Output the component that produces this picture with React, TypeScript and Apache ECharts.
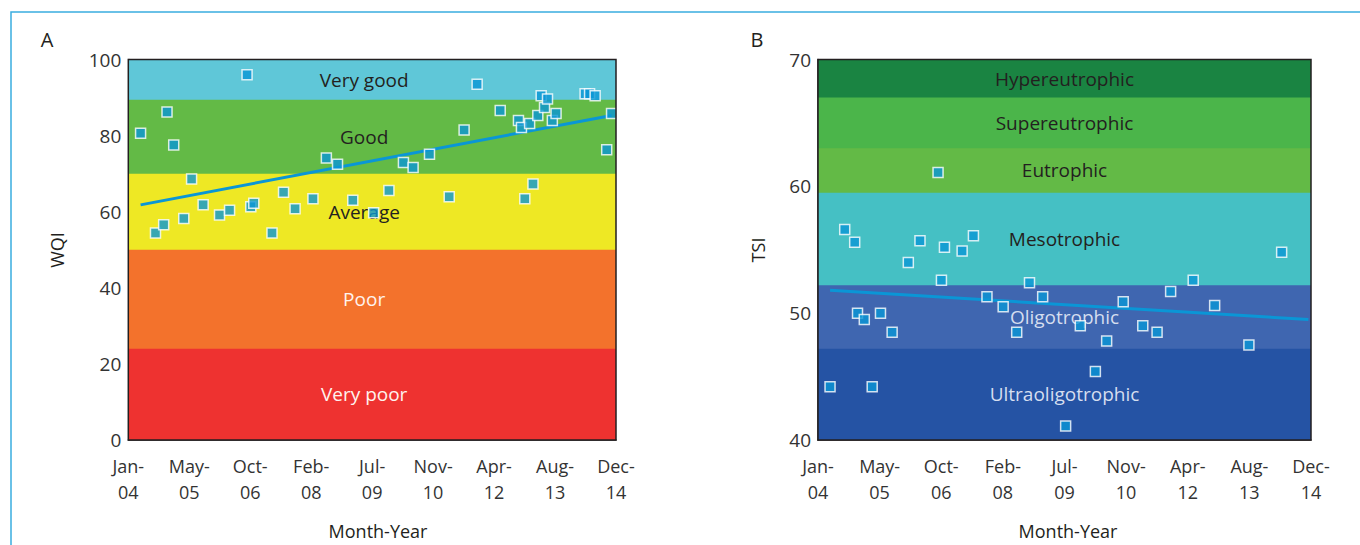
import React, { useEffect, useRef } from "react";
import * as echarts from "echarts";

// x values are months since Jan-2004
const tickLabels = ["Jan-\n04", "May-\n05", "Oct-\n06", "Feb-\n08", "Jul-\n09", "Nov-\n10", "Apr-\n12", "Aug-\n13", "Dec-\n14"];
const monthSpan = 131;

const wqiMonths = [3.3, 7.3, 9.5, 10.4, 12.2, 14.9, 17.0, 20.1, 24.5, 27.2, 31.9, 32.9, 33.7, 38.6, 41.7, 44.8, 49.6, 53.2, 56.2, 60.3, 65.9, 70.0, 73.9, 76.5, 80.9, 86.2, 90.2, 93.7, 99.9, 104.8, 105.6, 106.5, 107.8, 108.7, 110.0, 110.9, 111.8, 112.6, 113.9, 114.9, 122.7, 123.9, 125.4, 128.5, 129.8];
const wqiValues = [80.6, 54.4, 56.6, 86.2, 77.5, 58.2, 68.6, 61.8, 59.1, 60.4, 96.0, 61.3, 62.2, 54.4, 65.1, 60.8, 63.4, 74.1, 72.5, 63.0, 59.7, 65.6, 72.9, 71.6, 75.1, 63.9, 81.5, 93.5, 86.6, 84.0, 82.1, 63.4, 83.2, 67.3, 85.3, 90.5, 87.4, 89.6, 84.0, 85.8, 91.0, 91.0, 90.5, 76.3, 85.8];
const wqiTrendMonths = [3.3, 129.8];
const wqiTrendValues = [61.8, 85.3];

const tsiMonths = [3.2, 7.1, 9.75, 10.5, 12.3, 14.4, 16.6, 19.7, 24.0, 27.1, 31.9, 32.8, 33.6, 38.3, 41.3, 44.9, 49.2, 52.8, 56.2, 59.7, 65.8, 69.7, 73.7, 76.7, 81.1, 86.3, 90.1, 93.7, 99.7, 105.4, 114.5, 123.2];
const tsiValues = [44.2, 56.6, 55.6, 50.0, 49.5, 44.2, 50.0, 48.5, 54.0, 55.7, 61.1, 52.6, 55.2, 54.9, 56.1, 51.3, 50.5, 48.5, 52.4, 51.3, 41.1, 49.0, 45.4, 47.8, 50.9, 49.0, 48.5, 51.7, 52.6, 50.6, 47.5, 54.8];
const tsiTrendMonths = [3.2, 130.3];
const tsiTrendValues = [51.8, 49.5];

const wqiBandNames = ["Very poor", "Poor", "Average", "Good", "Very good"];
const wqiBandEdges = [0, 24, 50, 70, 89.4, 100];
const wqiBandColors = ["#EE3230", "#F3722C", "#EEE824", "#63BA46", "#5FC7D8"];
const wqiBandText = ["#FFF3EE", "#FFF3EE", "#231F20", "#231F20", "#231F20"];

const tsiBandNames = ["Ultraoligotrophic", "Oligotrophic", "Mesotrophic", "Eutrophic", "Supereutrophic", "Hypereutrophic"];
const tsiBandEdges = [40, 47.2, 52.2, 59.5, 63, 67, 70];
const tsiBandColors = ["#2553A4", "#3F66B0", "#45C0C4", "#63BA46", "#4BB54A", "#1A8442"];
const tsiBandText = ["#D5DEEF", "#D5DEEF", "#231F20", "#231F20", "#231F20", "#231F20"];

const FONT = "'Open Sans', 'Noto Sans', sans-serif";
const TEXT = "#231F20";
const MARK = "#0A96D6";

// fills: each band from its lower edge up to the top, later bands cover earlier ones (no seams)
function bandFills(edges: number[], colors: string[]) {
  const top = edges[edges.length - 1];
  return colors.map((c, i) => [
    { yAxis: edges[i], itemStyle: { color: c, opacity: 1, borderWidth: 0 } },
    { yAxis: top },
  ]);
}

// labels: transparent areas, one per band
function bandLabels(names: string[], edges: number[], texts: string[], offsetX: number) {
  return names.map((n, i) => [
    {
      name: n,
      yAxis: edges[i],
      itemStyle: { color: "rgba(0,0,0,0)", borderWidth: 0 },
      label: { color: texts[i], offset: [offsetX, 0] },
    },
    { yAxis: edges[i + 1] },
  ]);
}

function pairs(xs: number[], ys: number[]) {
  return xs.map((x, i) => [x, ys[i]]);
}

export default function App() {
  const ref = useRef<HTMLDivElement>(null);
  useEffect(() => {
    if (!ref.current) return;
    const chart = echarts.init(ref.current, undefined, { renderer: "svg" });
    const step = monthSpan / 8;
    const xAxisBase = (gridIndex: number) => ({
      type: "value",
      gridIndex,
      min: 0,
      max: monthSpan,
      interval: step,
      axisLine: { show: true, lineStyle: { color: TEXT, width: 1.5 } },
      axisTick: { show: false },
      splitLine: { show: false },
      axisLabel: {
        formatter: (v: number) => tickLabels[Math.round(v / step)] ?? "",
        fontSize: 18,
        lineHeight: 26,
        margin: 13,
        color: "#333",
        fontFamily: FONT,
        showMinLabel: true,
        showMaxLabel: true,
      },
    });
    const scatterStyle = {
      color: MARK,
      borderColor: "#FFFFFF",
      borderWidth: 1.5,
    };
    const areaLabel = { show: true, position: "inside", fontSize: 19, fontFamily: FONT };
    const bandSeries = (axis: number, fills: any[], labels: any[]) => [
      {
        type: "line",
        xAxisIndex: axis,
        yAxisIndex: axis,
        data: [],
        z: 1,
        markArea: { silent: true, label: { show: false }, data: fills },
      },
      {
        type: "line",
        xAxisIndex: axis,
        yAxisIndex: axis,
        data: [],
        z: 2,
        markArea: { silent: true, label: areaLabel, data: labels },
      },
    ];
    chart.setOption({
      animation: false,
      textStyle: { fontFamily: FONT },
      grid: [
        { left: 128.3, top: 59.5, width: 487.7, height: 380.5, show: true, borderColor: TEXT, borderWidth: 1.5, backgroundColor: "transparent", z: 10 },
        { left: 818, top: 59.5, width: 493, height: 380.5, show: true, borderColor: TEXT, borderWidth: 1.5, backgroundColor: "transparent", z: 10 },
      ],
      xAxis: [xAxisBase(0), xAxisBase(1)],
      yAxis: [
        {
          type: "value",
          gridIndex: 0,
          min: 0,
          max: 100,
          interval: 20,
          axisLine: { show: true, lineStyle: { color: TEXT, width: 1.5 } },
          axisTick: { show: false },
          splitLine: { show: false },
          axisLabel: { fontSize: 19, color: "#333", margin: 7, fontFamily: FONT },
        },
        {
          type: "value",
          gridIndex: 1,
          min: 40,
          max: 70,
          interval: 10,
          axisLine: { show: true, lineStyle: { color: TEXT, width: 1.5 } },
          axisTick: { show: false },
          splitLine: { show: false },
          axisLabel: { fontSize: 19, color: "#333", margin: 7, fontFamily: FONT, padding: [6, 0, 0, 0] },
        },
      ],
      graphic: [
        { type: "rect", shape: { x: 11, y: 12, width: 1400, height: 600 }, style: { fill: "none", stroke: "#3AADE0", lineWidth: 1.5 }, silent: true },
        { type: "text", x: 47, y: 39, style: { text: "A", fontSize: 20, fill: TEXT, fontFamily: FONT, align: "center", verticalAlign: "middle" } },
        { type: "text", x: 757, y: 39, style: { text: "B", fontSize: 20, fill: TEXT, fontFamily: FONT, align: "center", verticalAlign: "middle" } },
        { type: "text", x: 57, y: 250, rotation: Math.PI / 2, style: { text: "WQI", fontSize: 18, fill: TEXT, fontFamily: FONT, align: "center", verticalAlign: "middle" } },
        { type: "text", x: 758, y: 250, rotation: Math.PI / 2, style: { text: "TSI", fontSize: 18, fill: TEXT, fontFamily: FONT, align: "center", verticalAlign: "middle" } },
        { type: "text", x: 378, y: 531, style: { text: "Month-Year", fontSize: 18, fill: TEXT, fontFamily: FONT, align: "center", verticalAlign: "middle" } },
        { type: "text", x: 1068, y: 531, style: { text: "Month-Year", fontSize: 18, fill: TEXT, fontFamily: FONT, align: "center", verticalAlign: "middle" } },
      ],
      series: [
        ...bandSeries(0, bandFills(wqiBandEdges, wqiBandColors), bandLabels(wqiBandNames, wqiBandEdges, wqiBandText, -8)),
        {
          type: "line",
          xAxisIndex: 0,
          yAxisIndex: 0,
          z: 3,
          data: pairs(wqiTrendMonths, wqiTrendValues),
          showSymbol: false,
          symbol: "none",
          lineStyle: { color: MARK, width: 3 },
        },
        {
          type: "scatter",
          xAxisIndex: 0,
          yAxisIndex: 0,
          z: 4,
          data: pairs(wqiMonths, wqiValues),
          symbol: "rect",
          symbolSize: 10,
          itemStyle: scatterStyle,
        },
        ...bandSeries(1, bandFills(tsiBandEdges, tsiBandColors), bandLabels(tsiBandNames, tsiBandEdges, tsiBandText, 0)),
        {
          type: "line",
          xAxisIndex: 1,
          yAxisIndex: 1,
          z: 3,
          data: pairs(tsiTrendMonths, tsiTrendValues),
          showSymbol: false,
          symbol: "none",
          lineStyle: { color: MARK, width: 3 },
        },
        {
          type: "scatter",
          xAxisIndex: 1,
          yAxisIndex: 1,
          z: 4,
          data: pairs(tsiMonths, tsiValues),
          symbol: "rect",
          symbolSize: 10,
          itemStyle: scatterStyle,
        },
      ],
    });
    return () => chart.dispose();
  }, []);
  return <div ref={ref} style={{ position: "absolute", left: 0, top: 0, width: 1360, height: 545 }} />;
}
